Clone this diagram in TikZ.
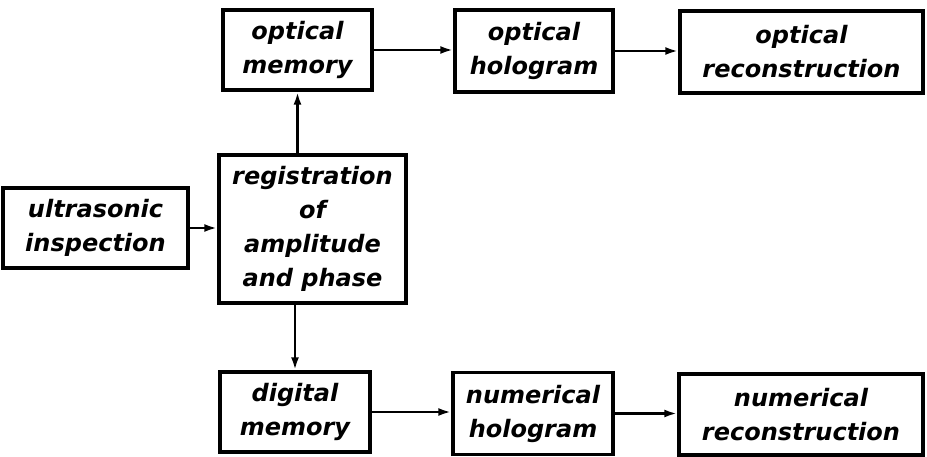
\documentclass[tikz,border=0pt]{standalone}
\usepackage{fontspec}
\setmainfont{DejaVu Sans}
\usepackage{tikz}
\usetikzlibrary{arrows.meta}

\tikzset{
  blk/.style={draw, line width=3.4pt, inner sep=0pt, align=center,
    font=\fontsize{24}{34}\selectfont\bfseries\itshape},
  conn/.style={line width=2.8pt, -{Latex[length=13pt,width=8pt]}}
}

\begin{document}
\begin{tikzpicture}[x=1pt, y=1pt]

        \useasboundingbox (0,0) rectangle (927,456);

        % source and registration
        \node[blk, minimum width=185pt, minimum height=80pt] (ultra) at (95.5,228) {ultrasonic\\inspection};
        \node[blk, minimum width=187pt, minimum height=148pt] (reg) at (312.5,227) {registration\\of\\amplitude\\and phase};

        % optical branch
        \node[blk, minimum width=149pt, minimum height=80pt] (omem) at (297.5,406) {optical\\memory};
        \node[blk, minimum width=158pt, minimum height=82pt] (oholo) at (534,405) {optical\\hologram};
        \node[blk, minimum width=243pt, minimum height=82pt] (orec) at (801.5,404) {optical\\reconstruction};

        % numerical branch
        \node[blk, minimum width=150pt, minimum height=80pt] (dmem) at (295,44) {digital\\memory};
        \node[blk, minimum width=160pt, minimum height=82pt] (nholo) at (533,42.5) {numerical\\hologram};
        \node[blk, minimum width=244pt, minimum height=81pt] (nrec) at (801,41.5) {numerical\\reconstruction};

        \draw[conn] (ultra.east) -- (ultra.east -| reg.west);

        \draw[conn] (reg.north -| omem.south) -- (omem.south);
        \draw[conn] (reg.south -| dmem.north) -- (dmem.north);

        \draw[conn] (omem.east) -- (omem.east -| oholo.west);
        \draw[conn] (oholo.east) -- (oholo.east -| orec.west);

        \draw[conn] (dmem.east) -- (dmem.east -| nholo.west);
        \draw[conn] (nholo.east) -- (nholo.east -| nrec.west);

      \end{tikzpicture}
\end{document}
